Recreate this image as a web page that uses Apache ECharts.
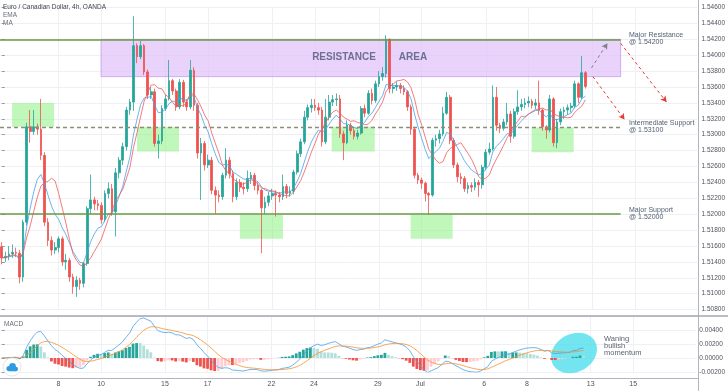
<!DOCTYPE html>
<html><head><meta charset="utf-8">
<script src="https://cdn.jsdelivr.net/npm/echarts@6/dist/echarts.min.js"></script>
<style>html,body{margin:0;padding:0;background:#fff}#c{width:728px;height:391px}</style>
</head><body><div id="c"></div>
<script>
// ---------- data (EUR/CAD 4h, OANDA) ----------
const firstOpen = 1.5159;
const closes = [
1.5145,1.5147,1.5150,1.5152,1.5151,1.5121,1.5190,1.5310,1.5304,1.5310,
1.5307,1.5274,1.5190,1.5167,1.5155,1.5158,1.5169,1.5140,1.5142,1.5121,
1.5109,1.5117,1.5113,1.5138,1.5207,1.5218,1.5213,1.5211,1.5193,1.5226,
1.5232,1.5203,1.5252,1.5268,1.5285,1.5331,1.5341,1.5412,1.5398,1.5412,
1.5379,1.5350,1.5354,1.5289,1.5292,1.5333,1.5345,1.5368,1.5355,1.5335,
1.5366,1.5341,1.5335,1.5381,1.5337,1.5277,1.5289,1.5262,1.5268,1.5230,
1.5224,1.5222,1.5249,1.5268,1.5251,1.5222,1.5240,1.5234,1.5232,1.5245,
1.5249,1.5236,1.5230,1.5208,1.5215,1.5223,1.5226,1.5224,1.5222,1.5235,
1.5226,1.5229,1.5253,1.5276,1.5291,1.5322,1.5334,1.5337,1.5334,1.5331,
1.5291,1.5322,1.5341,1.5344,1.5345,1.5301,1.5290,1.5312,1.5305,1.5298,
1.5302,1.5333,1.5327,1.5352,1.5343,1.5364,1.5373,1.5377,1.5420,1.5358,
1.5360,1.5362,1.5358,1.5354,1.5335,1.5307,1.5249,1.5243,1.5239,1.5226,
1.5224,1.5293,1.5295,1.5301,1.5327,1.5347,1.5293,1.5262,1.5247,1.5245,
1.5232,1.5236,1.5234,1.5240,1.5237,1.5259,1.5278,1.5282,1.5347,1.5312,
1.5308,1.5316,1.5326,1.5298,1.5329,1.5335,1.5338,1.5340,1.5342,1.5337,
1.5340,1.5331,1.5310,1.5306,1.5345,1.5290,1.5316,1.5329,1.5331,1.5334,
1.5336,1.5364,1.5347,1.5378,1.53607];
const highs = [
1.5165,1.5153,1.5160,1.5162,1.5158,1.5155,1.5193,1.5315,1.5331,1.5331,
1.5314,1.5345,1.5278,1.5195,1.5172,1.5165,1.5172,1.5172,1.5150,1.5145,
1.5125,1.5122,1.5120,1.5140,1.5210,1.5250,1.5222,1.5218,1.5215,1.5230,
1.5240,1.5238,1.5258,1.5272,1.5290,1.5335,1.5345,1.5449,1.5415,1.5418,
1.5414,1.5382,1.5360,1.5358,1.5300,1.5337,1.5350,1.5394,1.5370,1.5358,
1.5370,1.5369,1.5345,1.5394,1.5385,1.5340,1.5296,1.5292,1.5275,1.5272,
1.5235,1.5230,1.5252,1.5283,1.5272,1.5255,1.5245,1.5244,1.5240,1.5255,
1.5253,1.5252,1.5240,1.5232,1.5222,1.5228,1.5232,1.5230,1.5228,1.5250,
1.5238,1.5235,1.5256,1.5280,1.5295,1.5330,1.5338,1.5345,1.5345,1.5340,
1.5335,1.5345,1.5350,1.5350,1.5352,1.5350,1.5305,1.5318,1.5315,1.5308,
1.5306,1.5336,1.5338,1.5356,1.5358,1.5368,1.5380,1.5385,1.5425,1.5421,
1.5365,1.5367,1.5365,1.5362,1.5356,1.5338,1.5310,1.5252,1.5246,1.5241,
1.5228,1.5296,1.5300,1.5306,1.5335,1.5354,1.5350,1.5296,1.5265,1.5252,
1.5248,1.5240,1.5240,1.5245,1.5243,1.5262,1.5282,1.5290,1.5362,1.5360,
1.5315,1.5320,1.5340,1.5330,1.5333,1.5356,1.5345,1.5346,1.5348,1.5345,
1.5345,1.5368,1.5333,1.5312,1.5350,1.5347,1.5320,1.5333,1.5335,1.5338,
1.5340,1.5368,1.5366,1.5399,1.5380];
const lows = [
1.5137,1.5140,1.5142,1.5145,1.5146,1.5113,1.5115,1.5186,1.5290,1.5300,
1.5300,1.5268,1.5185,1.5160,1.5148,1.5150,1.5152,1.5135,1.5130,1.5115,
1.5100,1.5096,1.5105,1.5108,1.5135,1.5200,1.5205,1.5205,1.5188,1.5190,
1.5220,1.5198,1.5172,1.5245,1.5262,1.5280,1.5325,1.5330,1.5390,1.5395,
1.5375,1.5345,1.5345,1.5285,1.5270,1.5288,1.5330,1.5343,1.5350,1.5330,
1.5332,1.5335,1.5330,1.5332,1.5330,1.5270,1.5218,1.5255,1.5258,1.5225,
1.5201,1.5215,1.5218,1.5245,1.5245,1.5215,1.5218,1.5228,1.5225,1.5228,
1.5238,1.5230,1.5225,1.5151,1.5200,1.5210,1.5218,1.5197,1.5215,1.5218,
1.5220,1.5222,1.5225,1.5250,1.5272,1.5288,1.5318,1.5328,1.5330,1.5325,
1.5285,1.5288,1.5318,1.5336,1.5336,1.5296,1.5268,1.5288,1.5300,1.5294,
1.5294,1.5300,1.5322,1.5325,1.5338,1.5340,1.5360,1.5368,1.5372,1.5352,
1.5352,1.5355,1.5352,1.5350,1.5330,1.5300,1.5245,1.5238,1.5232,1.5216,
1.5199,1.5222,1.5285,1.5289,1.5298,1.5325,1.5288,1.5258,1.5240,1.5238,
1.5228,1.5226,1.5228,1.5230,1.5222,1.5232,1.5255,1.5275,1.5280,1.5305,
1.5302,1.5305,1.5312,1.5290,1.5295,1.5325,1.5330,1.5333,1.5335,1.5333,
1.5332,1.5325,1.5305,1.5295,1.5303,1.5285,1.5283,1.5312,1.5320,1.5325,
1.5328,1.5333,1.5340,1.5345,1.5358];

const dayTickIndex = [16,28,46,58,76,88,106,118,136,148,166,178];
const dayTickLabel = ['8','10','15','17','22','24','29','Jul','6','8','13','15'];
const slotCount = 196;

const majorResistance = 1.542;
const intermediateSupport = 1.531;
const majorSupport = 1.520;
const levelEnd = 173.9;
const resistanceZone = [27.9, 173.9, 1.5373, 1.5420];
const supportZones = [
  [2.9, 14.7, 1.5310, 1.5340],
  [38.0, 49.8, 1.5279, 1.5310],
  [66.9, 79.0, 1.5169, 1.5199],
  [92.7, 104.8, 1.5279, 1.5310],
  [114.9, 126.7, 1.5169, 1.5199],
  [148.9, 160.7, 1.5278, 1.5309]
];
const grayArrows = [[165.7, 1.5384, 170.2, 1.5415]];
const redArrows = [[166.1, 1.5373, 175.0, 1.5319], [173.9, 1.5415, 186.8, 1.5341]];

// ---------- indicators ----------
function ema(arr, n){ const k=2/(n+1); const out=[]; arr.forEach((v,i)=>{ out.push(i===0?v:v*k+out[i-1]*(1-k)); }); return out; }
function sma(arr, n){ return arr.map((v,i)=>{ const s=Math.max(0,i-n+1); let t=0; for(let j=s;j<=i;j++) t+=arr[j]; return t/(i-s+1); }); }
const ema9 = ema(closes, 9);
const ma9 = sma(closes, 9);
const e12 = ema(closes, 12), e26 = ema(closes, 26);
const macd = e12.map((v,i)=>v-e26[i]);
const signal = ema(macd, 9);
const hist = macd.map((v,i)=>v-signal[i]);

const candleData = closes.map((c,i)=>[i, i===0?firstOpen:closes[i-1], c, lows[i], highs[i]]);
const histData = hist.map((h,i)=>{
  const p = i===0?0:hist[i-1];
  let col;
  if (h>=0) col = h>=p ? '#26a69a' : '#b2dfdb';
  else col = h<=p ? '#ef5350' : '#ffcdd2';
  return {value:[i,h], itemStyle:{color:col}};
});

const gridColor = '#eef0f4';
const axisTextColor = '#50535e';
const FONT = 'Liberation Sans';

const chart = echarts.init(document.getElementById('c'));
chart.setOption({
  animation:false,
  backgroundColor:'#ffffff',
  grid:[
    {left:0, right:30, top:7.5, height:302.1},
    {left:0, right:30, top:316, height:56}
  ],
  xAxis:[
    {type:'value', gridIndex:0, min:-0.5, max:slotCount-0.5,
     axisLine:{show:false}, axisTick:{show:false, customValues:dayTickIndex},
     axisLabel:{show:false, customValues:dayTickIndex},
     splitLine:{show:true, lineStyle:{color:gridColor, width:1}}},
    {type:'value', gridIndex:1, min:-0.5, max:slotCount-0.5,
     axisLine:{show:false}, axisTick:{show:false, customValues:dayTickIndex},
     axisLabel:{show:true, customValues:dayTickIndex, margin:9,
       formatter:v=>{const k=dayTickIndex.indexOf(Math.round(v)); return k>=0?dayTickLabel[k]:'';},
       fontSize:7, color:axisTextColor, fontFamily:FONT},
     splitLine:{show:true, lineStyle:{color:gridColor, width:1}}}
  ],
  yAxis:[
    {type:'value', gridIndex:0, position:'right', min:1.508, max:1.546, interval:0.002,
     axisLine:{show:false}, axisTick:{show:true, length:3, lineStyle:{color:'#9598a1'}},
     axisLabel:{fontSize:6.5, color:axisTextColor, margin:4, fontFamily:FONT, formatter:v=>v.toFixed(5)},
     splitLine:{show:true, lineStyle:{color:gridColor, width:1}}},
    {type:'value', gridIndex:1, position:'right', min:-0.002, max:0.006, interval:0.002,
     axisLine:{show:false}, axisTick:{show:true, length:3, lineStyle:{color:'#9598a1'}},
     axisLabel:{fontSize:6.5, color:axisTextColor, margin:4, fontFamily:FONT, showMaxLabel:false,
       formatter:v=>(Math.abs(v)<1e-9?0:v).toFixed(5)},
     splitLine:{show:true, lineStyle:{color:gridColor, width:1}}}
  ],
  series:[
    { // resistance area (behind candles)
      type:'line', xAxisIndex:0, yAxisIndex:0, data:[], z:1, silent:true,
      markArea:{silent:true, itemStyle:{color:'rgba(226,196,250,0.75)', borderColor:'rgba(196,150,238,0.9)', borderWidth:0.8},
        data:[[{coord:[resistanceZone[0], resistanceZone[3]]},{coord:[resistanceZone[1], resistanceZone[2]]}]]}
    },
    {
      type:'candlestick', xAxisIndex:0, yAxisIndex:0, data:candleData,
      encode:{x:0, y:[1,2,3,4]}, barWidth:2.2, z:3, silent:true,
      itemStyle:{color:'#26a69a', color0:'#ef5350', borderColor:'#26a69a', borderColor0:'#ef5350', borderWidth:0.8},
      markLine:{silent:true, symbol:['none','none'], lineStyle:{opacity:0},
        label:{show:true, position:'end', distance:1, formatter:p=>Number(p.value).toFixed(5),
          backgroundColor:'#ef5350', color:'#ffffff', fontSize:6.5, fontFamily:FONT, padding:[2,3,2,3]},
        data:[{yAxis:closes[closes.length-1]}]}
    },
    {type:'line', xAxisIndex:0, yAxisIndex:0, data:ema9.map((v,i)=>[i,v]), showSymbol:false, z:4, silent:true,
     lineStyle:{color:'#4a9fe8', width:0.8}},
    {type:'line', xAxisIndex:0, yAxisIndex:0, data:ma9.map((v,i)=>[i,v]), showSymbol:false, z:4, silent:true,
     lineStyle:{color:'#f05a5a', width:0.8}},
    { // support zones, levels, arrows
      type:'line', xAxisIndex:0, yAxisIndex:0, data:[], z:6, silent:true,
      markArea:{silent:true, itemStyle:{color:'rgba(140,240,130,0.55)'},
        data:supportZones.map(z=>[{coord:[z[0], z[3]]},{coord:[z[1], z[2]]}])},
      markLine:{silent:true, symbol:['none','none'], label:{show:false},
        data:[
          [{coord:[-0.5, majorResistance], lineStyle:{color:'#6a9a45', width:1.5, type:'solid'}},{coord:[levelEnd, majorResistance]}],
          [{coord:[-0.5, majorSupport], lineStyle:{color:'#6a9a45', width:1.5, type:'solid'}},{coord:[levelEnd, majorSupport]}],
          [{coord:[-0.5, intermediateSupport], lineStyle:{color:'#8a8f78', width:1.3, type:[4,3]}},{coord:[levelEnd, intermediateSupport]}]
        ]}
    },
    {
      type:'line', xAxisIndex:0, yAxisIndex:0, data:[], z:7, silent:true,
      markLine:{silent:true, symbol:['none','arrow'], symbolSize:[5,6], label:{show:false},
        data:[
          ...grayArrows.map(a=>[{coord:[a[0],a[1]], lineStyle:{color:'#7d7f86', width:1, type:[3,3]}, itemStyle:{color:'#7d7f86'}},{coord:[a[2],a[3]]}]),
          ...redArrows.map(a=>[{coord:[a[0],a[1]], lineStyle:{color:'#e53935', width:1, type:[3,3]}, itemStyle:{color:'#e53935'}},{coord:[a[2],a[3]]}])
        ]}
    },
    {type:'bar', xAxisIndex:1, yAxisIndex:1, data:histData, barWidth:2.8, z:3, silent:true},
    {type:'line', xAxisIndex:1, yAxisIndex:1, data:macd.map((v,i)=>[i,v]), showSymbol:false, z:4, silent:true,
     lineStyle:{color:'#4a9fe8', width:0.8}},
    {type:'line', xAxisIndex:1, yAxisIndex:1, data:signal.map((v,i)=>[i,v]), showSymbol:false, z:4, silent:true,
     lineStyle:{color:'#f5922f', width:0.8}}
  ],
  graphic:[
    {type:'ellipse', x:574, y:353, rotation:0.5, shape:{cx:0, cy:0, rx:24, ry:19}, style:{fill:'rgba(80,222,236,0.8)'}, z:1, silent:true},
    {type:'line', shape:{x1:698.5,y1:0,x2:698.5,y2:391}, style:{stroke:'#b2b5be', lineWidth:1}, z:50, silent:true},
    {type:'line', shape:{x1:0,y1:316,x2:728,y2:316}, style:{stroke:'#a3a6af', lineWidth:1.5}, z:50, silent:true},
    {type:'line', shape:{x1:0,y1:378.5,x2:698,y2:378.5}, style:{stroke:'#b2b5be', lineWidth:1}, z:50, silent:true},
    {type:'text', x:3, y:7, style:{text:'Euro / Canadian Dollar, 4h, OANDA', font:'6.5px "Liberation Sans"', fill:'#3b3f4a', verticalAlign:'middle', textVerticalAlign:'middle'}, z:60},
    {type:'text', x:3, y:15, style:{text:'EMA', font:'6.5px "Liberation Sans"', fill:'#6a6d78', verticalAlign:'middle', textVerticalAlign:'middle'}, z:60},
    {type:'text', x:3, y:23, style:{text:'MA', font:'6.5px "Liberation Sans"', fill:'#6a6d78', verticalAlign:'middle', textVerticalAlign:'middle'}, z:60},
    {type:'text', x:344, y:57.5, style:{text:'RESISTANCE', font:'bold 10px "Liberation Sans"', fill:'#6c7090', align:'center', textAlign:'center', verticalAlign:'middle', textVerticalAlign:'middle'}, z:60},
    {type:'text', x:413, y:57.5, style:{text:'AREA', font:'bold 10px "Liberation Sans"', fill:'#6c7090', align:'center', textAlign:'center', verticalAlign:'middle', textVerticalAlign:'middle'}, z:60},
    {type:'text', x:629, y:35, style:{text:'Major Resistance', font:'7px "Liberation Sans"', fill:'#536172', verticalAlign:'middle', textVerticalAlign:'middle'}, z:60},
    {type:'text', x:629, y:42, style:{text:'@ 1.54200', font:'7px "Liberation Sans"', fill:'#536172', verticalAlign:'middle', textVerticalAlign:'middle'}, z:60},
    {type:'text', x:629, y:123, style:{text:'Intermediate Support', font:'7px "Liberation Sans"', fill:'#536172', verticalAlign:'middle', textVerticalAlign:'middle'}, z:60},
    {type:'text', x:629, y:130, style:{text:'@ 1.53100', font:'7px "Liberation Sans"', fill:'#536172', verticalAlign:'middle', textVerticalAlign:'middle'}, z:60},
    {type:'text', x:629, y:210, style:{text:'Major Support', font:'7px "Liberation Sans"', fill:'#536172', verticalAlign:'middle', textVerticalAlign:'middle'}, z:60},
    {type:'text', x:629, y:217, style:{text:'@ 1.52000', font:'7px "Liberation Sans"', fill:'#536172', verticalAlign:'middle', textVerticalAlign:'middle'}, z:60},
    {type:'text', x:4, y:324, style:{text:'MACD', font:'6.5px "Liberation Sans"', fill:'#6a6d78', verticalAlign:'middle', textVerticalAlign:'middle'}, z:60},
    {type:'text', x:604, y:339, style:{text:'Waning', font:'7.5px "Liberation Sans"', fill:'#5a6474', verticalAlign:'middle', textVerticalAlign:'middle'}, z:60},
    {type:'text', x:604, y:346, style:{text:'bullish', font:'7.5px "Liberation Sans"', fill:'#5a6474', verticalAlign:'middle', textVerticalAlign:'middle'}, z:60},
    {type:'text', x:604, y:353, style:{text:'momentum', font:'7.5px "Liberation Sans"', fill:'#5a6474', verticalAlign:'middle', textVerticalAlign:'middle'}, z:60},
    {type:'circle', shape:{cx:12, cy:367, r:9}, style:{fill:'#ffffff', stroke:'#e3e6ec', lineWidth:1}, z:55, silent:true},
    {type:'circle', shape:{cx:9, cy:368.5, r:2.6}, style:{fill:'#2f9be0'}, z:56, silent:true},
    {type:'circle', shape:{cx:12.5, cy:366.5, r:3.4}, style:{fill:'#2f9be0'}, z:56, silent:true},
    {type:'circle', shape:{cx:15.8, cy:369, r:2.3}, style:{fill:'#2f9be0'}, z:56, silent:true},
    {type:'rect', shape:{x:8.5, y:368.5, width:8, height:2.8}, style:{fill:'#2f9be0'}, z:56, silent:true}
  ]
});
</script>
</body></html>
